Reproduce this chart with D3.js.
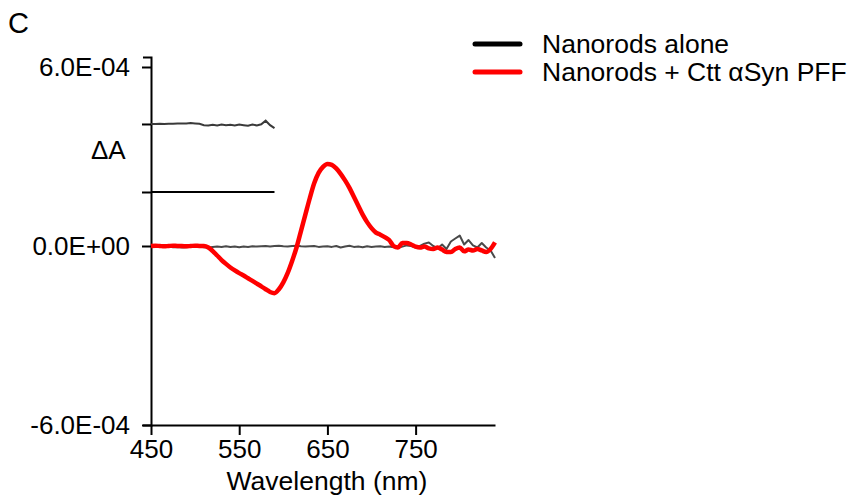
<!DOCTYPE html>
<html>
<head>
<meta charset="utf-8">
<script src="https://cdn.jsdelivr.net/npm/d3@7"></script>
<style>
  html, body { margin: 0; padding: 0; background: #fff; }
  svg { display: block; font-family: "Liberation Sans", Arial, sans-serif; }
</style>
</head>
<body>
<svg id="chart" width="850" height="503"></svg>
<script>
// ---- Data (ΔA in units of 1e-4) ----
const wavelengths = d3.range(450, 841, 5); // 450..840 nm, 79 points
const pffValues = [
  0, 0.01, 0, -0.01, 0, 0.01, 0, 0, -0.01, 0, 0.01, 0, 0,           // 450-510
  -0.05, -0.17, -0.32, -0.47, -0.6, -0.72, -0.82, -0.91, -0.99, -1.08,  // 515-560
  -1.17, -1.26, -1.35, -1.45, -1.54, -1.58, -1.45, -1.22, -0.9, -0.5, // 565-610
  -0.05, 0.5, 1.05, 1.6, 2.1, 2.45, 2.65, 2.75, 2.72, 2.6,           // 615-660
  2.42, 2.2, 1.95, 1.65, 1.35, 1.05, 0.8, 0.6, 0.45, 0.38,           // 665-710
  0.3, 0.2, 0.0, -0.05, 0.1, 0.1, 0.05, -0.02, -0.05, -0.02,         // 715-760
  -0.08, -0.1, -0.05, -0.12, -0.2, -0.2, -0.1, -0.05, -0.18, -0.12,  // 765-810
  -0.15, -0.1, -0.15, -0.2, -0.1, 0.12                               // 815-840
];
const aloneValues = [
  0, -0.01, 0.01, 0, -0.02, -0.04, -0.03, -0.05, -0.04, -0.02, -0.03, -0.02, -0.04, // 450-510
  -0.05, -0.03, -0.02, -0.03, -0.01, -0.03, -0.02, -0.04, -0.02, -0.03,             // 515-560
  -0.01, -0.02, -0.01, 0.0, -0.02, 0.0, 0.01, -0.01, -0.02, 0.0,                    // 565-610
  0.01, -0.01, -0.02, -0.01, 0.0, -0.03, -0.02, -0.01, -0.03, 0.0,                  // 615-660
  -0.05, -0.02, 0.01, -0.03, -0.02, -0.04, -0.01, -0.03, -0.02, -0.01,              // 665-710
  -0.03, -0.02, -0.04, -0.06, -0.02, 0.02, 0.0, -0.05, 0.0, 0.08,                   // 715-760
  0.12, 0.0, -0.08, 0.05, -0.1, 0.15, 0.25, 0.35, 0.05, 0.2,                        // 765-810
  0.02, -0.05, 0.1, -0.05, -0.15, -0.4                                              // 815-840
];
// scale-bar style traces drawn in the upper-left part of the plot
const barWavelengths = d3.range(450, 591, 5); // 450..590
const upperTraceValues = [
  4.09, 4.09, 4.1, 4.09, 4.1, 4.1, 4.11, 4.11, 4.11, 4.12, 4.11, 4.1,
  4.05, 4.04, 4.06, 4.04, 4.07, 4.05, 4.06, 4.04, 4.07, 4.05, 4.03, 4.07,
  4.04, 4.08, 4.2, 4.05, 3.95
];
const scaleLineValue = 1.81;

const yTickValues = [-6, 0, 1.81, 4.09, 6];
const yTickLabels = ["-6.0E-04", "0.0E+00", "", "", "6.0E-04"];
const xTickValues = [450, 550, 650, 750];
const seriesNames = ["Nanorods alone", "Nanorods + Ctt \u03B1Syn PFF"];
const seriesColors = ["#000000", "#ff0000"];

// ---- Scales ----
const svg = d3.select("#chart");
const x = d3.scaleLinear().domain([450, 840]).range([151, 495]);
const y = d3.scaleLinear().domain([-6, 6.335]).range([425, 57]);

// ---- Axes ----
const yAxis = d3.axisLeft(y)
  .tickValues(yTickValues)
  .tickFormat((d, i) => yTickLabels[i])
  .tickSize(9).tickSizeOuter(8).tickPadding(12);
const gy = svg.append("g").attr("transform", `translate(${x(450)},0)`).call(yAxis);
gy.select(".domain").attr("stroke", "#000").attr("stroke-width", 2);
gy.selectAll(".tick line").attr("stroke", "#000").attr("stroke-width", 2);
gy.selectAll(".tick text").attr("font-size", 26).attr("fill", "#000")
  .attr("font-family", "'Liberation Sans', Arial, sans-serif");

const xAxis = d3.axisBottom(x)
  .tickValues(xTickValues)
  .tickFormat(d3.format("d"))
  .tickSize(10).tickSizeOuter(0).tickPadding(5);
const gx = svg.append("g").attr("transform", `translate(0,${y(-6)})`).call(xAxis);
gx.select(".domain").attr("stroke", "#000").attr("stroke-width", 2);
gx.selectAll(".tick line").attr("stroke", "#000").attr("stroke-width", 2);
gx.selectAll(".tick text").attr("font-size", 26).attr("fill", "#000")
  .attr("font-family", "'Liberation Sans', Arial, sans-serif");

// ---- Lines ----
const line = d3.line().x(d => x(d[0])).y(d => y(d[1]));

// upper gray trace
svg.append("path")
  .datum(barWavelengths.map((w, i) => [w, upperTraceValues[i]]))
  .attr("d", line).attr("fill", "none")
  .attr("stroke", "#3a3a3a").attr("stroke-width", 2);

// black scale line
svg.append("path")
  .datum([[450, scaleLineValue], [590, scaleLineValue]])
  .attr("d", line).attr("fill", "none")
  .attr("stroke", "#000").attr("stroke-width", 2);

// nanorods alone (gray)
svg.append("path")
  .datum(wavelengths.map((w, i) => [w, aloneValues[i]]))
  .attr("d", line).attr("fill", "none")
  .attr("stroke", "#4a4a4a").attr("stroke-width", 2)
  .attr("stroke-linejoin", "round");

// nanorods + PFF (red)
svg.append("path")
  .datum(wavelengths.map((w, i) => [w, pffValues[i]]))
  .attr("d", d3.line().x(d => x(d[0])).y(d => y(d[1])).curve(d3.curveMonotoneX))
  .attr("fill", "none")
  .attr("stroke", "#ff0000").attr("stroke-width", 4.5)
  .attr("stroke-linejoin", "round");

// ---- Texts ----
svg.append("text").attr("x", 8).attr("y", 33).attr("font-size", 29).attr("fill", "#000").text("C");
svg.append("text").attr("x", 91).attr("y", 159).attr("font-size", 26).attr("fill", "#000").text("\u0394A");
svg.append("text").attr("x", 327).attr("y", 490).attr("text-anchor", "middle")
  .attr("font-size", 26.5).attr("fill", "#000").text("Wavelength (nm)");

// ---- Legend ----
const legend = svg.append("g");
seriesNames.forEach((name, i) => {
  const ly = 44 + i * 28;
  legend.append("line").attr("x1", 475).attr("x2", 520).attr("y1", ly).attr("y2", ly)
    .attr("stroke", seriesColors[i]).attr("stroke-width", 5).attr("stroke-linecap", "round");
  legend.append("text").attr("x", 542).attr("y", ly + 9).attr("font-size", 26.5)
    .attr("fill", "#000").text(name);
});
</script>
</body>
</html>
